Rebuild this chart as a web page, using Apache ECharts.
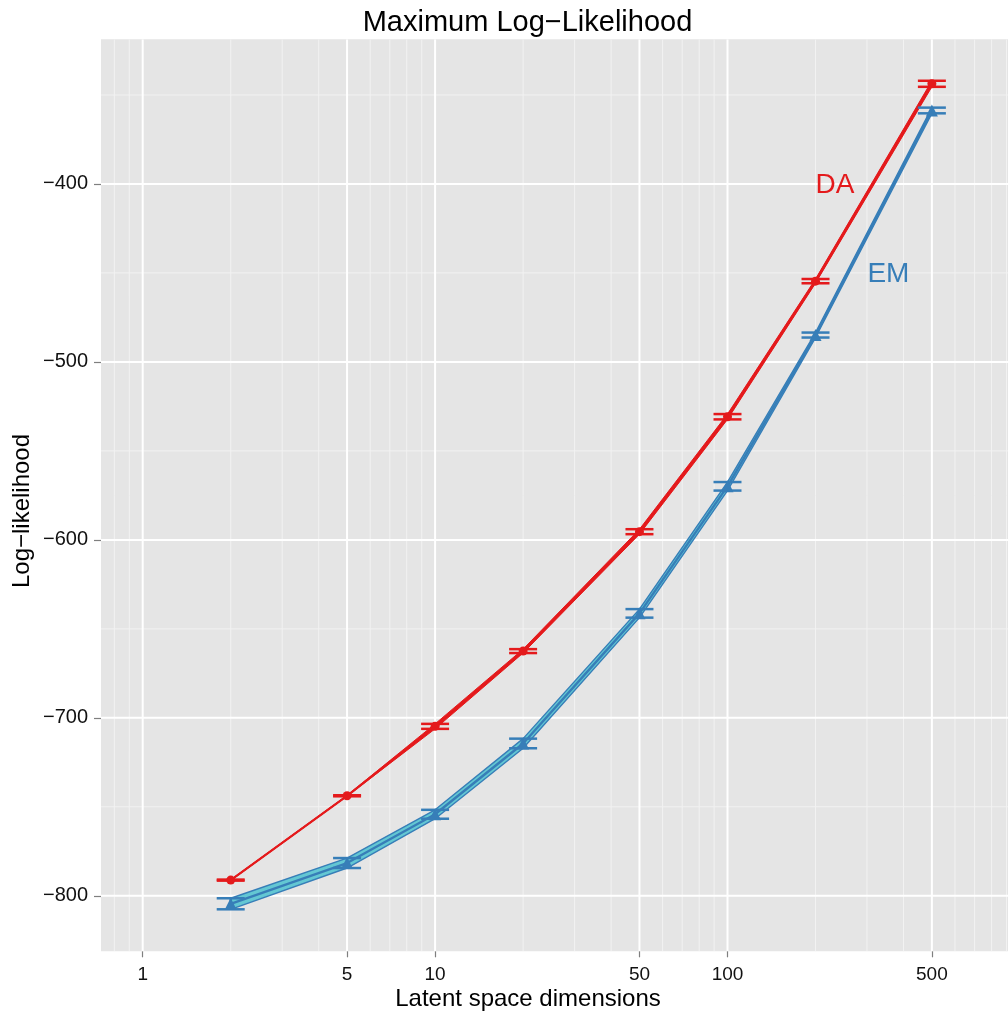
<!DOCTYPE html>
<html>
<head>
<meta charset="utf-8">
<title>Maximum Log−Likelihood</title>
<script src="https://cdn.jsdelivr.net/npm/echarts@6/dist/echarts.min.js"></script>
<style>
  html, body { margin: 0; padding: 0; background: #ffffff; }
  #chart { width: 1008px; height: 1015px; }
</style>
</head>
<body>
<div id="chart"></div>
<script>
// Latent space dimensions (log-scaled x)
const dims = [2, 5, 10, 20, 50, 100, 200, 500];

// DA: mean maximum log-likelihood and spread
const daMean = [-791.2, -743.8, -704.8, -662.5, -595.4, -530.8, -454.6, -343.7];
const daSd = [0.3, 0.3, 1.4, 1.1, 1.4, 1.5, 1.2, 1.7];

// EM: mean maximum log-likelihood and spread
const emMean = [-804.5, -781.6, -754.2, -714.4, -641.3, -569.9, -484.9, -358.7];
const emSd = [3.1, 2.8, 2.5, 2.7, 2.4, 2.4, 1.4, 1.6];

// Axis breaks
const xTicks = [1, 5, 10, 50, 100, 500];
const xMinor = [0.8, 0.9, 2, 3, 4, 6, 7, 8, 9, 20, 30, 40, 60, 70, 80, 90,
                200, 300, 400, 600, 700, 800, 900];
const yTicks = [-800, -700, -600, -500, -400];
const yMinor = [-750, -650, -550, -450, -350];

// In-plot series labels
const labelText = ['DA', 'EM'];
const labelX = [233, 355];
const labelY = [-401, -451];

const RED = '#E41A1C';
const BLUE = '#377EB8';
const CYAN = '#63C7D3';
const FONT = '"Liberation Sans", Arial, Helvetica, sans-serif';
const minus = s => String(s).replace('-', '\u2212');

const chart = echarts.init(document.getElementById('chart'), null, { renderer: 'canvas' });

function gridLines(values, vertical, color, width) {
  return {
    type: 'custom',
    silent: true,
    z: 1,
    clip: true,
    data: values.map(v => vertical ? [v, yTicks[0]] : [xTicks[0], v]),
    encode: { x: 0, y: 1 },
    renderItem(params, api) {
      const cs = params.coordSys;
      const p = api.coord([api.value(0), api.value(1)]);
      const shape = vertical
        ? { x1: p[0], y1: cs.y, x2: p[0], y2: cs.y + cs.height }
        : { x1: cs.x, y1: p[1], x2: cs.x + cs.width, y2: p[1] };
      return { type: 'line', shape, style: { stroke: color, lineWidth: width } };
    }
  };
}

function ribbon(mean, sd, fill, stroke, lw, z) {
  return {
    type: 'custom',
    silent: true,
    z,
    data: [[dims[0], mean[0]]],
    encode: { x: 0, y: 1 },
    renderItem(params, api) {
      const upper = dims.map((d, i) => api.coord([d, mean[i] + sd[i]]));
      const lower = dims.map((d, i) => api.coord([d, mean[i] - sd[i]])).reverse();
      return {
        type: 'polygon',
        shape: { points: upper.concat(lower) },
        style: { fill, stroke, lineWidth: lw, lineJoin: 'round' }
      };
    }
  };
}

function errorBars(mean, sd, color, z) {
  return {
    type: 'custom',
    silent: true,
    z,
    data: dims.map((d, i) => [d, mean[i] - sd[i], mean[i] + sd[i]]),
    encode: { x: 0, y: [1, 2] },
    renderItem(params, api) {
      const lo = api.coord([api.value(0), api.value(1)]);
      const hi = api.coord([api.value(0), api.value(2)]);
      const hw = 14;
      const st = { stroke: color, lineWidth: 2.5 };
      return {
        type: 'group',
        children: [
          { type: 'line', shape: { x1: lo[0] - hw, y1: lo[1], x2: lo[0] + hw, y2: lo[1] }, style: st },
          { type: 'line', shape: { x1: hi[0] - hw, y1: hi[1], x2: hi[0] + hw, y2: hi[1] }, style: st },
          { type: 'line', shape: { x1: lo[0], y1: lo[1], x2: hi[0], y2: hi[1] }, style: st }
        ]
      };
    }
  };
}

function meanLine(mean, color, width, z) {
  return {
    type: 'line',
    silent: true,
    z,
    data: dims.map((d, i) => [d, mean[i]]),
    showSymbol: false,
    lineStyle: { color, width, cap: 'round', join: 'round' },
    animation: false
  };
}

function points(mean, color, symbol, size, z) {
  return {
    type: 'scatter',
    silent: true,
    z,
    data: dims.map((d, i) => [d, mean[i]]),
    symbol,
    symbolSize: size,
    itemStyle: { color, opacity: 1 },
    animation: false
  };
}

const option = {
  animation: false,
  backgroundColor: '#ffffff',
  grid: {
    left: 101,
    top: 39.3,
    width: 962.8,
    height: 912,
    show: true,
    backgroundColor: '#E5E5E5',
    borderWidth: 0,
    outerBoundsMode: 'none'
  },
  xAxis: {
    type: 'log',
    logBase: 10,
    min: 0.7202,
    max: 1413,
    axisLine: { show: false },
    splitLine: { show: false },
    minorSplitLine: { show: false },
    axisTick: { show: true, length: 6, customValues: xTicks, lineStyle: { color: '#7F7F7F', width: 1.2 } },
    axisLabel: {
      customValues: xTicks,
      margin: 14,
      color: '#111111',
      fontSize: 19,
      fontFamily: FONT,
      formatter: v => String(v)
    }
  },
  yAxis: {
    type: 'value',
    min: -831.2,
    max: -318.7,
    axisLine: { show: false },
    splitLine: { show: false },
    axisTick: { show: true, length: 7, customValues: yTicks, lineStyle: { color: '#7F7F7F', width: 1.2 } },
    axisLabel: {
      customValues: yTicks,
      margin: 13,
      color: '#111111',
      fontSize: 20,
      fontFamily: FONT,
      formatter: v => minus(v)
    }
  },
  graphic: [
    {
      type: 'text', x: 527.5, y: 22.5, silent: true,
      style: { text: 'Maximum Log\u2212Likelihood', font: '29px ' + FONT, fill: '#000', align: 'center', verticalAlign: 'middle' }
    },
    {
      type: 'text', x: 528, y: 999, silent: true,
      style: { text: 'Latent space dimensions', font: '24px ' + FONT, fill: '#000', align: 'center', verticalAlign: 'middle' }
    },
    {
      type: 'text', x: 22, y: 511, rotation: Math.PI / 2, silent: true,
      style: { text: 'Log\u2212likelihood', font: '24px ' + FONT, fill: '#000', align: 'center', verticalAlign: 'middle' }
    }
  ],
  series: [
    gridLines(xMinor, true, '#F2F2F2', 1),
    gridLines(yMinor, false, '#F2F2F2', 1),
    gridLines(xTicks, true, '#FFFFFF', 2),
    gridLines(yTicks, false, '#FFFFFF', 2),

    ribbon(emMean, emSd, CYAN, BLUE, 1.4, 3),
    ribbon(daMean, daSd, RED, RED, 1.0, 3),
    meanLine(emMean, BLUE, 2.4, 4),
    meanLine(daMean, RED, 2.2, 4),
    errorBars(emMean, emSd, BLUE, 5),
    errorBars(daMean, daSd, RED, 5),
    points(emMean, BLUE, 'triangle', 12, 6),
    points(daMean, RED, 'circle', 9, 6),

    {
      type: 'custom',
      silent: true,
      z: 7,
      data: labelText.map((t, i) => [labelX[i], labelY[i]]),
      encode: { x: 0, y: 1 },
      renderItem(params, api) {
        const p = api.coord([api.value(0), api.value(1)]);
        return {
          type: 'text',
          x: p[0],
          y: p[1],
          style: {
            text: labelText[params.dataIndex],
            fill: params.dataIndex === 0 ? RED : BLUE,
            font: '28px ' + FONT,
            align: 'center',
            verticalAlign: 'middle'
          }
        };
      }
    }
  ]
};

chart.setOption(option);
</script>
</body>
</html>
